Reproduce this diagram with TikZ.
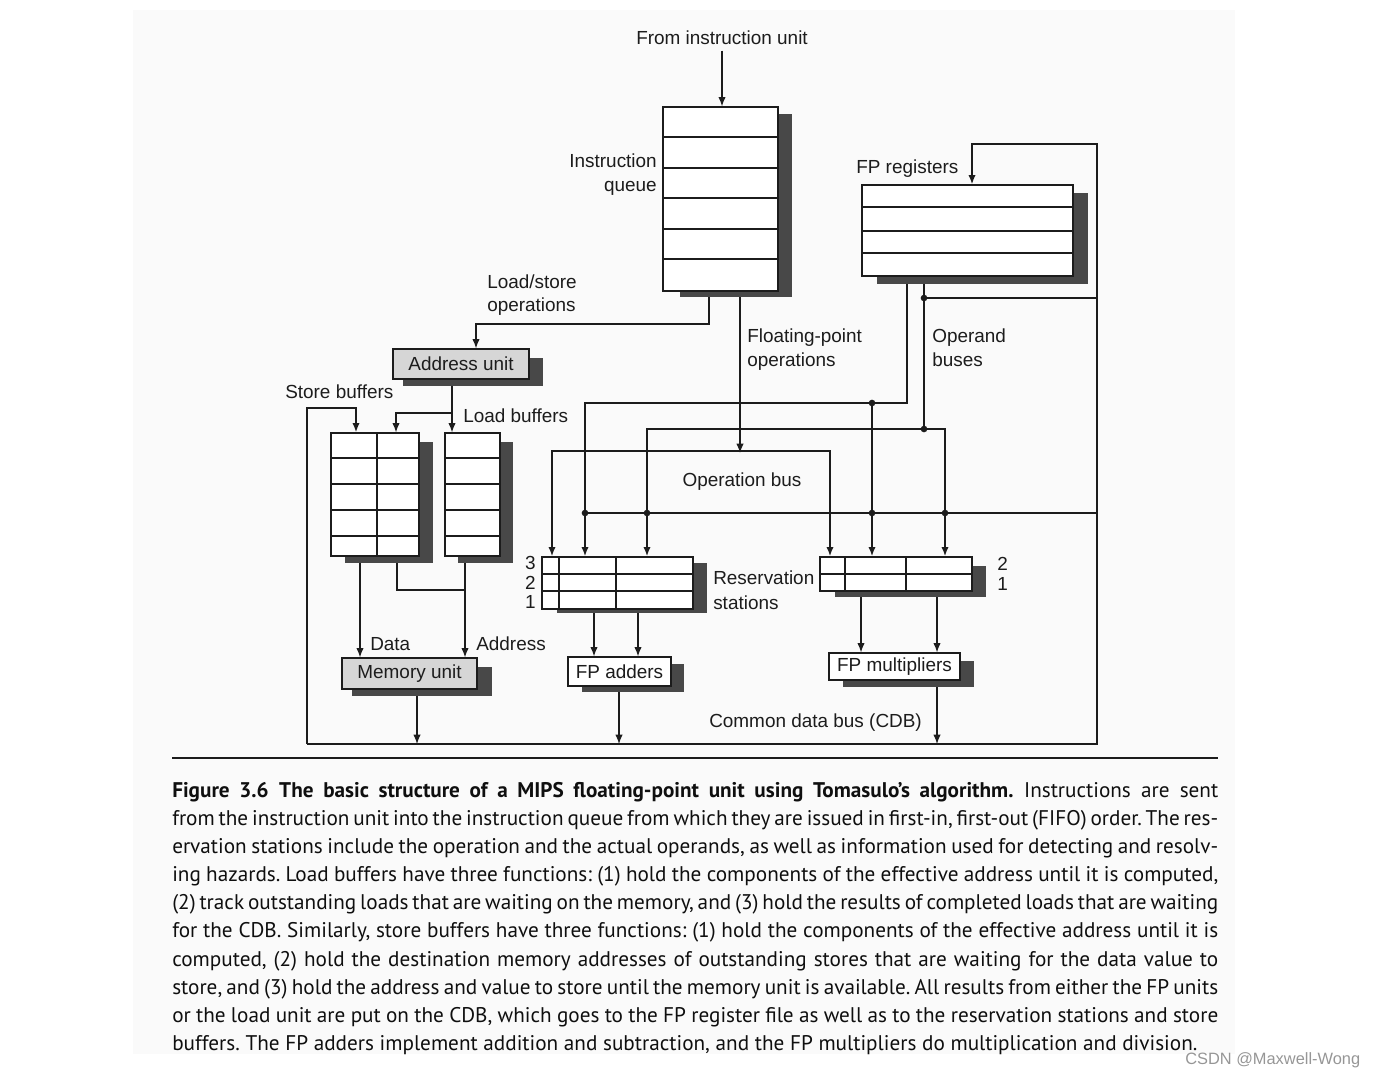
\documentclass[tikz,border=0pt]{standalone}
\usepackage{fontspec}
\setmainfont{Liberation Sans}
\newfontfamily\capfont{PT Sans}
\usetikzlibrary{arrows.meta}
\definecolor{ink}{RGB}{28,28,28}
\definecolor{capink}{RGB}{15,15,15}
\definecolor{shadowc}{RGB}{72,72,72}
\definecolor{unitfill}{RGB}{214,214,214}
\definecolor{pagebg}{RGB}{250,250,250}
\definecolor{wm}{RGB}{150,150,150}
\newcommand\pw{0.75pt}
\newcommand\dfont{\fontsize{14.2pt}{17pt}\selectfont}
\newcommand\cfont{\capfont\fontsize{15.9pt}{21pt}\selectfont\frenchspacing}
\newlength\capw \setlength\capw{784.5pt}
\newcommand\capline[1]{\hbox to \capw{#1}}
\begin{document}
\begin{tikzpicture}[x=0.75pt, y=-0.75pt,
  box/.style={draw=ink, line width=0.9pt, fill=white, inner sep=0pt, font=\dfont, text=ink},
  unit/.style={box, fill=unitfill},
  shad/.style={fill=shadowc},
  ln/.style={draw=ink, line width=0.9pt},
  bus/.style={draw=ink, line width=1.7pt},
  cdb/.style={draw=ink, line width=1.3pt},
  tip/.style={-{Latex[length=7pt,width=5.5pt]}},
  tips/.style={{Latex[length=7pt,width=5.5pt]}-{Latex[length=7pt,width=5.5pt]}},
  jdot/.style={circle, fill=ink, inner sep=0pt, minimum size=5pt},
  lbl/.style={font=\dfont, text=ink, inner sep=0pt},
  capl/.style={anchor=base west, inner sep=0pt, font=\cfont, text=capink}]
\useasboundingbox (0,0) rectangle (1376,1078);
\fill[pagebg] (133,10) rectangle (1235,1054);

% ---------- shadows ----------
\fill[shad] (680,114) rectangle (792,297);
\fill[shad] (877,193) rectangle (1088,284);
\fill[shad] (403,358) rectangle (543,386);
\fill[shad] (345,442) rectangle (433,563);
\fill[shad] (458,442) rectangle (513,563);
\fill[shad] (557,563) rectangle (707,613);
\fill[shad] (835,566) rectangle (986,597);
\fill[shad] (352,667) rectangle (492,696);
\fill[shad] (582,664) rectangle (684,692);
\fill[shad] (843,661) rectangle (974,687);

% ---------- boxes ----------
\node[box, minimum width=115*\pw, minimum height=184*\pw] (iq) at (720.5,199) {};
\foreach \yy in {137,168,198,229,259} \draw[ln] (iq.west |- 0,\yy) -- (iq.east |- 0,\yy);

\node[box, minimum width=211*\pw, minimum height=91*\pw] (fpr) at (967.5,230.5) {};
\foreach \yy in {207,231,253} \draw[ln] (fpr.west |- 0,\yy) -- (fpr.east |- 0,\yy);

\node[unit, minimum width=136*\pw, minimum height=30*\pw] (au) at (461,364) {Address unit};

\node[box, minimum width=88*\pw, minimum height=123*\pw] (sb) at (375,494.5) {};
\foreach \yy in {458,484,510,536} \draw[ln] (sb.west |- 0,\yy) -- (sb.east |- 0,\yy);
\draw[ln] (sb.north -| 377,0) -- (sb.south -| 377,0);

\node[box, minimum width=55*\pw, minimum height=123*\pw] (lb) at (472.5,494.5) {};
\foreach \yy in {458,484,510,536} \draw[ln] (lb.west |- 0,\yy) -- (lb.east |- 0,\yy);

\node[box, minimum width=151*\pw, minimum height=52*\pw] (rsa) at (617.5,583) {};
\foreach \yy in {574,591} \draw[ln] (rsa.west |- 0,\yy) -- (rsa.east |- 0,\yy);
\foreach \xx in {559,616} \draw[ln] (rsa.north -| \xx,0) -- (rsa.south -| \xx,0);

\node[box, minimum width=152*\pw, minimum height=34*\pw] (rsm) at (896,574) {};
\draw[ln] (rsm.west |- 0,574) -- (rsm.east |- 0,574);
\foreach \xx in {845,906} \draw[ln] (rsm.north -| \xx,0) -- (rsm.south -| \xx,0);

\node[unit, minimum width=135*\pw, minimum height=31*\pw] (mu) at (409.5,673.5) {Memory unit};
\node[box, minimum width=103*\pw, minimum height=29*\pw] (fpa) at (619.5,671.5) {FP adders};
\node[box, minimum width=131*\pw, minimum height=27*\pw] (fpm) at (894.5,666.5) {FP multipliers};

% ---------- labels ----------
\node[lbl] (lfrom) at (722,38) {From instruction unit};
\node[lbl, anchor=base east] (liq1) at (657,167) {Instruction};
\node[lbl, anchor=base east] (liq2) at (657,191) {queue};
\node[lbl, anchor=base west] (lfpr) at (856,173) {FP registers};
\node[lbl, anchor=base west] (lls1) at (487,288) {Load/store};
\node[lbl, anchor=base west] (lls2) at (487,311) {operations};
\node[lbl, anchor=base west] (lfo1) at (747,342) {Floating-point};
\node[lbl, anchor=base west] (lfo2) at (747,366) {operations};
\node[lbl, anchor=base west] (lob1) at (932,342) {Operand};
\node[lbl, anchor=base west] (lob2) at (932,366) {buses};
\node[lbl, anchor=base west] (lsb) at (285,398) {Store buffers};
\node[lbl, anchor=base west] (llb) at (463,422) {Load buffers};
\node[lbl, anchor=base] (lop) at (742,486) {Operation bus};
\node[lbl, anchor=base east] (n3) at (536,569) {3};
\node[lbl, anchor=base east] (n2) at (536,589) {2};
\node[lbl, anchor=base east] (n1) at (536,608) {1};
\node[lbl, anchor=base west] (lrs1) at (713,584) {Reservation};
\node[lbl, anchor=base west] (lrs2) at (713,609) {stations};
\node[lbl, anchor=base west] (m2) at (997,570) {2};
\node[lbl, anchor=base west] (m1) at (997,590) {1};
\node[lbl, anchor=base west] (ldata) at (370,650) {Data};
\node[lbl, anchor=base west] (laddr) at (476,650) {Address};
\node[lbl, anchor=base west] (lcdb) at (709,727) {Common data bus (CDB)};

% ---------- coordinates ----------
\coordinate (lsA) at (709,297);  \coordinate (lsB) at (476,324);
\coordinate (fpoA) at (740,297);
\coordinate (opL) at (552,451);  \coordinate (opR) at (830,451);
\coordinate (ob1) at (907,284);  \coordinate (ob1c) at (907,403);
\coordinate (ob1L) at (585,403); \coordinate (ob1d) at (872,403);
\coordinate (ob2) at (924,284);  \coordinate (ob2c) at (924,429);
\coordinate (ob2L) at (647,429); \coordinate (ob2R) at (945,429);
\coordinate (cdbL) at (307,744); \coordinate (cdbR) at (1097,744);
\coordinate (cdbT) at (1097,144); \coordinate (fprIn) at (972,144);
\coordinate (cdbF) at (1097,298); \coordinate (opJ) at (924,298);
\coordinate (cdbM) at (1097,513); \coordinate (cdbML) at (585,513);
\coordinate (sbT) at (307,408);  \coordinate (sbIn) at (356,408);
\coordinate (auO) at (452,386);  \coordinate (auB) at (452,413);
\coordinate (sbA) at (396,413);
\coordinate (sbD) at (360,563);  \coordinate (sbC) at (397,563);
\coordinate (sbJ) at (397,590);  \coordinate (lbA) at (465,563);
\coordinate (muO) at (417,696);
\coordinate (ra1) at (594,613);  \coordinate (ra2) at (638,613);
\coordinate (faO) at (619,692);
\coordinate (rm1) at (861,597);  \coordinate (rm2) at (937,597);
\coordinate (fmO) at (937,687);

% ---------- connectors ----------
\draw[ln,tip] ([yshift=-4pt]lfrom.south) -- (lfrom.south |- iq.north);
\draw[ln,tip] (lsA) |- (lsB) -- (lsB |- au.north);
\draw[ln,tip] (fpoA) -- ([yshift=-1.5pt]fpoA |- opL);
\draw[bus,tips] (opL |- rsa.north) -- (opL) -- (opR) -- (opR |- rsm.north);

\draw[bus,tip] (ob1) -- (ob1c) -- (ob1L) -- (ob1L |- rsa.north);
\draw[bus,tip] (ob1d) -- (ob1d |- rsm.north);
\draw[bus,tip] (ob2) -- (ob2c) -- (ob2L) -- (ob2L |- rsa.north);
\draw[bus,tip] (ob2c) -- (ob2R) -- (ob2R |- rsm.north);

\draw[cdb,tip] (cdbL) -- (cdbR) -- (cdbT) -- (fprIn) -- (fprIn |- fpr.north);
\draw[cdb,tip] (cdbL) -- (sbT) -- (sbIn) -- (sbIn |- sb.north);
\draw[cdb] (cdbF) -- (opJ);
\draw[bus] (cdbM) -- (cdbML);

\draw[ln,tip] (auO) -- (auO |- lb.north);
\draw[ln,tip] (auB) -- (sbA) -- (sbA |- sb.north);
\draw[ln,tip] (sbD) -- (sbD |- mu.north);
\draw[ln] (sbC) -- (sbJ) -- (lbA |- sbJ);
\draw[ln,tip] (lbA) -- (lbA |- mu.north);
\draw[ln,tip] (muO) -- (muO |- cdbL);
\draw[ln,tip] (ra1) -- (ra1 |- fpa.north);
\draw[ln,tip] (ra2) -- (ra2 |- fpa.north);
\draw[ln,tip] (faO) -- (faO |- cdbL);
\draw[ln,tip] (rm1) -- (rm1 |- fpm.north);
\draw[ln,tip] (rm2) -- (rm2 |- fpm.north);
\draw[ln,tip] (fmO) -- (fmO |- cdbL);

% ---------- junction dots ----------
\node[jdot] (d1) at (ob1d) {};
\node[jdot] (d2) at (ob2c) {};
\node[jdot] (d3) at (opJ) {};
\node[jdot] (d4) at (585,513) {};
\node[jdot] (d5) at (647,513) {};
\node[jdot] (d6) at (872,513) {};
\node[jdot] (d7) at (945,513) {};

% ---------- caption ----------
\coordinate (rl1) at (172,758); \coordinate (rl2) at (1218,758);
\draw[ink, line width=1.2pt] (rl1) -- (rl2);
\node[capl] (c1) at (172,797) {\capline{{\bfseries Figure 3.6\enspace The basic structure of a MIPS floating-point unit using Tomasulo’s algorithm.}\enspace Instructions are sent}};
\node[capl] (c2) at (172,825) {\capline{from the instruction unit into the instruction queue from which they are issued in first-in, first-out (FIFO) order. The res-}};
\node[capl] (c3) at (172,853) {\capline{ervation stations include the operation and the actual operands, as well as information used for detecting and resolv-}};
\node[capl] (c4) at (172,881) {\capline{ing hazards. Load buffers have three functions: (1) hold the components of the effective address until it is computed,}};
\node[capl] (c5) at (172,909) {\capline{(2) track outstanding loads that are waiting on the memory, and (3) hold the results of completed loads that are waiting}};
\node[capl] (c6) at (172,937) {\capline{for the CDB. Similarly, store buffers have three functions: (1) hold the components of the effective address until it is}};
\node[capl] (c7) at (172,966) {\capline{computed, (2) hold the destination memory addresses of outstanding stores that are waiting for the data value to}};
\node[capl] (c8) at (172,994) {\capline{store, and (3) hold the address and value to store until the memory unit is available. All results from either the FP units}};
\node[capl] (c9) at (172,1022) {\capline{or the load unit are put on the CDB, which goes to the FP register file as well as to the reservation stations and store}};
\node[capl] (c10) at (172,1050) {buffers. The FP adders implement addition and subtraction, and the FP multipliers do multiplication and division.};

\node[anchor=base west, inner sep=0pt, text=wm, font=\fontsize{12.3pt}{14pt}\selectfont] (wmk) at (1185,1064) {CSDN @Maxwell-Wong};
\end{tikzpicture}
\end{document}
